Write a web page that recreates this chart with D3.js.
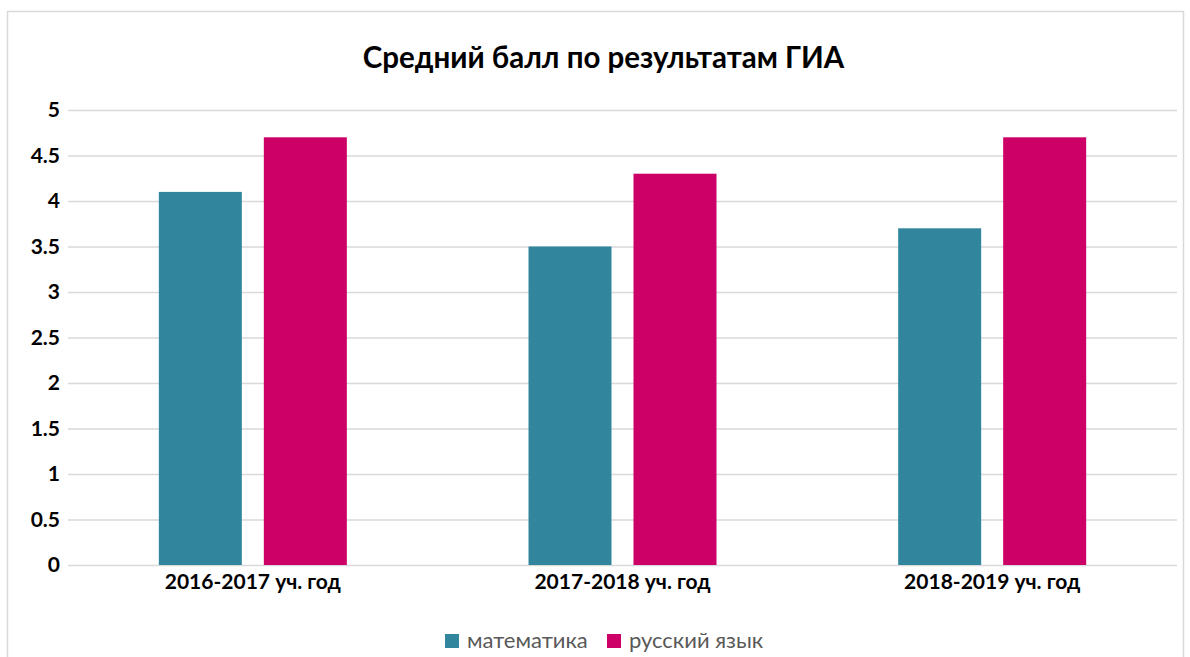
<!DOCTYPE html>
<html><head><meta charset="utf-8">
<script src="https://cdn.jsdelivr.net/npm/d3@7"></script>
<style>body{margin:0;background:#fff}svg{display:block}</style>
</head><body>
<script>
const categories = ["2016-2017 уч. год", "2017-2018 уч. год", "2018-2019 уч. год"];
const seriesNames = ["математика", "русский язык"];
const math = [4.1, 3.5, 3.7];
const russian = [4.7, 4.3, 4.7];
const colors = ["#31869E", "#CC0066"];
const yTicks = [0, 0.5, 1, 1.5, 2, 2.5, 3, 3.5, 4, 4.5, 5];

(function () {
const W = 1190, H = 657;
const svg = d3.select("body").append("svg").attr("width", W).attr("height", H)
  .style("font-family", "Lato, 'Open Sans', sans-serif");
svg.append("rect").attr("x", 7.5).attr("y", 11.5).attr("width", 1176).attr("height", 660)
  .attr("fill", "#fff").attr("stroke", "#d9d9d9").attr("stroke-width", 1.5);

const pLeft = 68, pRight = 1177, pTop = 110, pBottom = 565;
const x = d3.scaleBand().domain(categories).range([pLeft, pRight]).paddingInner(0).paddingOuter(0);
const y = d3.scaleLinear().domain([0, 5]).range([pBottom, pTop]);

svg.append("text").attr("x", 603.5).attr("y", 68).attr("text-anchor", "middle")
  .attr("font-size", 29.5).attr("font-weight", "bold").attr("fill", "#000")
  .text("Средний балл по результатам ГИА");

const yAxis = svg.append("g").attr("transform", `translate(${pLeft},0)`)
  .call(d3.axisLeft(y).tickValues(yTicks).tickSize(-(pRight - pLeft)).tickPadding(8).tickFormat(d => String(d)));
yAxis.select(".domain").remove();
yAxis.selectAll(".tick line").attr("stroke", "#d9d9d9").attr("stroke-width", 1.5);
yAxis.selectAll(".tick text").attr("font-size", 21).attr("font-weight", "bold").attr("fill", "#000")
  .attr("font-family", "Lato, sans-serif");

const xAxis = svg.append("g").attr("transform", `translate(0,${pBottom})`)
  .call(d3.axisBottom(x).tickSize(0).tickPadding(9));
xAxis.select(".domain").remove();
xAxis.selectAll(".tick text").attr("font-size", 21).attr("font-weight", "bold").attr("fill", "#000")
  .attr("font-family", "Lato, sans-serif");

const barW = 83, gap = 22;
const series = [math, russian];
series.forEach((vals, si) => {
  svg.append("g").selectAll("rect").data(vals).join("rect")
    .attr("x", (d, i) => x(categories[i]) + x.bandwidth() / 2 + (si === 0 ? -(gap / 2 + barW) : gap / 2))
    .attr("y", d => y(d))
    .attr("width", barW)
    .attr("height", d => y(0) - y(d))
    .attr("fill", colors[si]);
});

const legend = svg.append("g");
const lx = [445, 607];
seriesNames.forEach((n, i) => {
  legend.append("rect").attr("x", lx[i]).attr("y", 634).attr("width", 14).attr("height", 14).attr("fill", colors[i]);
  legend.append("text").attr("x", lx[i] + 22).attr("y", 648).attr("font-size", 22).attr("fill", "#595959").text(n);
});
})();
</script>
</body></html>
